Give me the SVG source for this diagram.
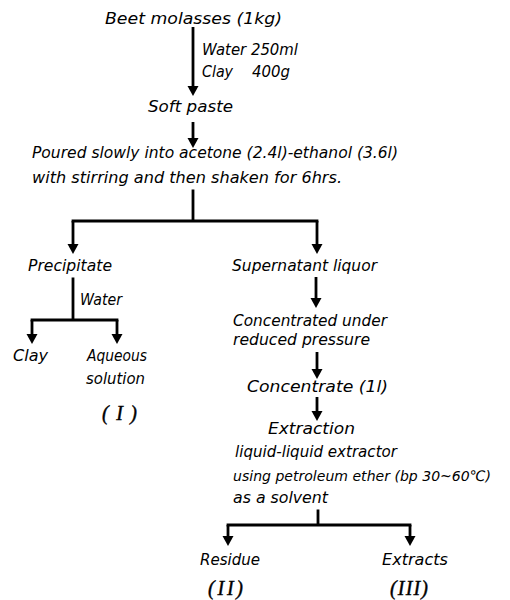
<svg xmlns="http://www.w3.org/2000/svg" width="510" height="600" viewBox="0 0 510 600">
<style>
  .t { font-family: "DejaVu Sans", "Liberation Sans", sans-serif; font-style: oblique; font-size: 16px; fill: #000; }
  .r { font-family: "Liberation Serif", "DejaVu Serif", serif; font-style: italic; font-size: 20px; fill: #000; stroke: #000; stroke-width: 0.4; }
  .ln { fill: none; stroke: #000; stroke-width: 2.8; stroke-linecap: square; }
  .ar { fill: none; stroke: #000; stroke-width: 2.8; stroke-linecap: butt; marker-end: url(#ah); }
</style>
<defs>
  <marker id="ah" markerUnits="userSpaceOnUse" markerWidth="12" markerHeight="12" viewBox="0 -6 12 12" refX="0" refY="0" orient="auto">
    <path d="M0,-5.5 L10,0 L0,5.5 Z" fill="#000"/>
  </marker>
</defs>
<rect width="510" height="600" fill="#fff"/>

<g id="connectors">
  <path class="ar" d="M193,27 V86"/>
  <path class="ar" d="M193,122 V138"/>
  <path class="ln" d="M193,191 V221 M73,221 H317"/>
  <path class="ar" d="M73,221 V244"/>
  <path class="ar" d="M317,221 V244"/>
  <path class="ln" d="M73,279 V320 M32,320 H117"/>
  <path class="ar" d="M32,320 V334"/>
  <path class="ar" d="M117,320 V334"/>
  <path class="ar" d="M316,277 V298"/>
  <path class="ar" d="M317,352 V369"/>
  <path class="ar" d="M317,397 V411"/>
  <path class="ln" d="M318,511 V525 M228,525 H410"/>
  <path class="ar" d="M228,525 V536"/>
  <path class="ar" d="M410,525 V536"/>
</g>

<g id="label-additives">
  <text class="t" x="202" y="55" textLength="96" lengthAdjust="spacingAndGlyphs">Water 250ml</text>
  <text class="t" x="202" y="77" textLength="31" lengthAdjust="spacingAndGlyphs">Clay</text>
  <text class="t" x="252" y="77" textLength="38" lengthAdjust="spacingAndGlyphs">400g</text>
</g>
<g id="label-water">
  <text class="t" x="80" y="305" textLength="42" lengthAdjust="spacingAndGlyphs">Water</text>
</g>

<g id="node-molasses">
  <text class="t" x="105" y="24" textLength="177" lengthAdjust="spacingAndGlyphs">Beet molasses (1kg)</text>
</g>
<g id="node-softpaste">
  <text class="t" x="148" y="112" textLength="85" lengthAdjust="spacingAndGlyphs">Soft paste</text>
</g>
<g id="node-poured">
  <text class="t" x="32" y="158" textLength="366" lengthAdjust="spacingAndGlyphs">Poured slowly into acetone (2.4l)-ethanol (3.6l)</text>
  <text class="t" x="32" y="183" textLength="310" lengthAdjust="spacingAndGlyphs">with stirring and then shaken for 6hrs.</text>
</g>
<g id="node-precipitate">
  <text class="t" x="28" y="271" textLength="84" lengthAdjust="spacingAndGlyphs">Precipitate</text>
</g>
<g id="node-supernatant">
  <text class="t" x="232" y="271" textLength="145" lengthAdjust="spacingAndGlyphs">Supernatant liquor</text>
</g>
<g id="node-clay">
  <text class="t" x="13" y="361" textLength="35" lengthAdjust="spacingAndGlyphs">Clay</text>
</g>
<g id="node-aqueous">
  <text class="t" x="87" y="361" textLength="60" lengthAdjust="spacingAndGlyphs">Aqueous</text>
  <text class="t" x="86" y="384" textLength="59" lengthAdjust="spacingAndGlyphs">solution</text>
  <text class="r" x="102" y="420" textLength="35" lengthAdjust="spacing">(I)</text>
</g>
<g id="node-concentrated">
  <text class="t" x="233" y="326" textLength="154" lengthAdjust="spacingAndGlyphs">Concentrated under</text>
  <text class="t" x="233" y="345" textLength="137" lengthAdjust="spacingAndGlyphs">reduced pressure</text>
</g>
<g id="node-concentrate">
  <text class="t" x="247" y="392" textLength="141" lengthAdjust="spacingAndGlyphs">Concentrate (1l)</text>
</g>
<g id="node-extraction">
  <text class="t" x="268" y="434" textLength="87" lengthAdjust="spacingAndGlyphs">Extraction</text>
  <text class="t" x="235" y="457" textLength="162" lengthAdjust="spacingAndGlyphs">liquid-liquid extractor</text>
  <text class="t" x="233" y="481" style="font-size:14.5px" textLength="258" lengthAdjust="spacingAndGlyphs">using petroleum ether (bp 30~60℃)</text>
  <text class="t" x="233" y="503" textLength="95" lengthAdjust="spacingAndGlyphs">as a solvent</text>
</g>
<g id="node-residue">
  <text class="t" x="200" y="565" textLength="60" lengthAdjust="spacingAndGlyphs">Residue</text>
  <text class="r" x="208" y="595" textLength="35" lengthAdjust="spacing">(II)</text>
</g>
<g id="node-extracts">
  <text class="t" x="382" y="565" textLength="66" lengthAdjust="spacingAndGlyphs">Extracts</text>
  <text class="r" x="390" y="595" textLength="38" lengthAdjust="spacing">(III)</text>
</g>
</svg>
